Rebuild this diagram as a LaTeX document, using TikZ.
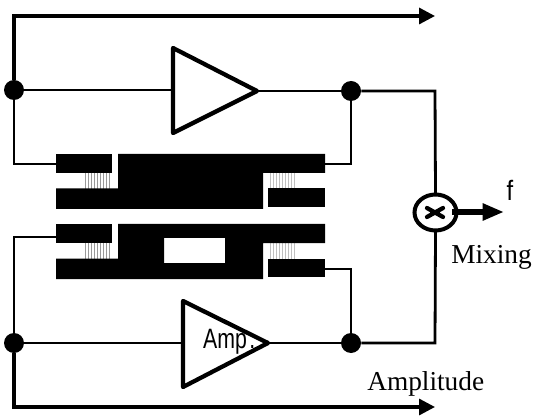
\documentclass[tikz,border=0pt]{standalone}
\usepackage{fontspec}
\setmainfont{Liberation Serif}
\setsansfont{Liberation Sans}
\usetikzlibrary{arrows.meta}
\tikzset{
  wire/.style={line width=2.1pt,line join=miter},
  heavy/.style={line width=2.5pt,line join=miter},
  outarrow/.style={heavy,-{Triangle[length=12pt,width=12pt]}},
  junction/.style={circle,fill=black,inner sep=0pt,minimum size=15pt},
  ampbox/.style={line width=3.2pt,line join=round,fill=white},
  metal/.style={fill=black,draw=none},
  stripeA/.style={line width=1.1pt,draw=black!40},
  stripeB/.style={line width=1.1pt,draw=black!25},
  lbl/.style={inner sep=0pt,font=\fontsize{20.5pt}{22pt}\selectfont},
  sanslbl/.style={inner sep=0pt,font=\sffamily\fontsize{21pt}{23pt}\selectfont}
}
\begin{document}
\begin{tikzpicture}[x=0.75pt,y=-0.75pt]
\useasboundingbox (0,0) rectangle (534,416);
% named points
\coordinate (tl) at (14,16);
\coordinate (tr) at (435,16);
\coordinate (bl) at (14,407);
\coordinate (br) at (435,407);
\coordinate (ur) at (435,91);
\coordinate (lr) at (435,343);
\coordinate (d1l) at (56,164);
\coordinate (d1r) at (325,164);
\coordinate (d2l) at (56,237);
\coordinate (d2r) at (325,269);
\coordinate (a1w) at (173,90);
\coordinate (a1t) at (173,48);
\coordinate (a1b) at (173,133);
\coordinate (a1e) at (257,91);
\coordinate (a2w) at (183,343);
\coordinate (a2t) at (183,301);
\coordinate (a2b) at (183,387);
\coordinate (a2e) at (268,343);
\node[junction] (j1) at (14,90) {};
\node[junction] (j2) at (351,91) {};
\node[junction] (j3) at (14,343) {};
\node[junction] (j4) at (351,343) {};
\node[circle,inner sep=0pt,minimum size=1pt] (mix) at (435.5,212.5) {};
\coordinate (mixt) at (435.5,194);
\coordinate (mixb) at (435.5,231);
\coordinate (mixe) at (452,212);
\coordinate (ftip) at (504,212);
% stripes
\foreach \x in {85,88,...,110} \draw[stripeA] (\x.5,173) -- (\x.5,189);
\foreach \x in {270,273,...,295} \draw[stripeB] (\x.5,173) -- (\x.5,189);
\foreach \x in {85,88,...,110} \draw[stripeA] (\x.5,243) -- (\x.5,259);
\foreach \x in {270,273,...,295} \draw[stripeB] (\x.5,243) -- (\x.5,259);
% upper device
\fill[metal] (56,154) rectangle (112,173);
\fill[metal] (118,154) -| (325,173) -| (263,209) -| (56,188.5) -| (118,154) -- cycle;
\fill[metal] (268,188.5) rectangle (325,207);
% lower device
\fill[metal] (56,224) rectangle (112,243);
\fill[metal,even odd rule] (118,224) -| (325,243) -| (263,279) -| (56,258.5) -| (118,224) -- cycle
   (164,238) rectangle (225,263);
\fill[metal] (268,258.5) rectangle (325,277);
% connectors
\draw[wire] (j1) -- (a1w);
\draw[wire] (a1e) -- (j2);
\draw[wire] (j2) -- (ur) -- (mixt);
\draw[wire] (j2) |- (d1r);
\draw[wire] (j1) |- (d1l);
\draw[wire] (d2l) -| (j3);
\draw[wire] (j3) -- (a2w);
\draw[wire] (a2e) -- (j4);
\draw[wire] (j4) -- (lr) -- (mixb);
\draw[wire] (j4) |- (d2r);
\draw[outarrow] (j1) |- (tr);
\draw[outarrow] (j3) |- (br);
% amplifiers
\draw[ampbox] (a1t) -- (a1e) -- (a1b) -- cycle;
\draw[ampbox] (a2t) -- (a2e) -- (a2b) -- cycle;
% mixer
\draw[line width=3pt] (mix) ellipse [x radius=21,y radius=18];
\draw[line width=3.2pt,line cap=round] (427,208) -- (443,217) (427,217) -- (443,208);
\draw[line width=4pt,-{Triangle[length=16pt,width=12pt]}] (mixe) -- (ftip);
% labels
\node[sanslbl,anchor=base,xscale=0.85] (flabel) at (510,201) {f};
\node[lbl,anchor=base west] (mixing) at (451,263) {Mixing};
\node[lbl,anchor=base west] (amplitude) at (367,390) {Amplitude};
\node[sanslbl,anchor=base west,xscale=0.76] (amp) at (203,348) {Amp\kern 2.5pt.};
\end{tikzpicture}
\end{document}
